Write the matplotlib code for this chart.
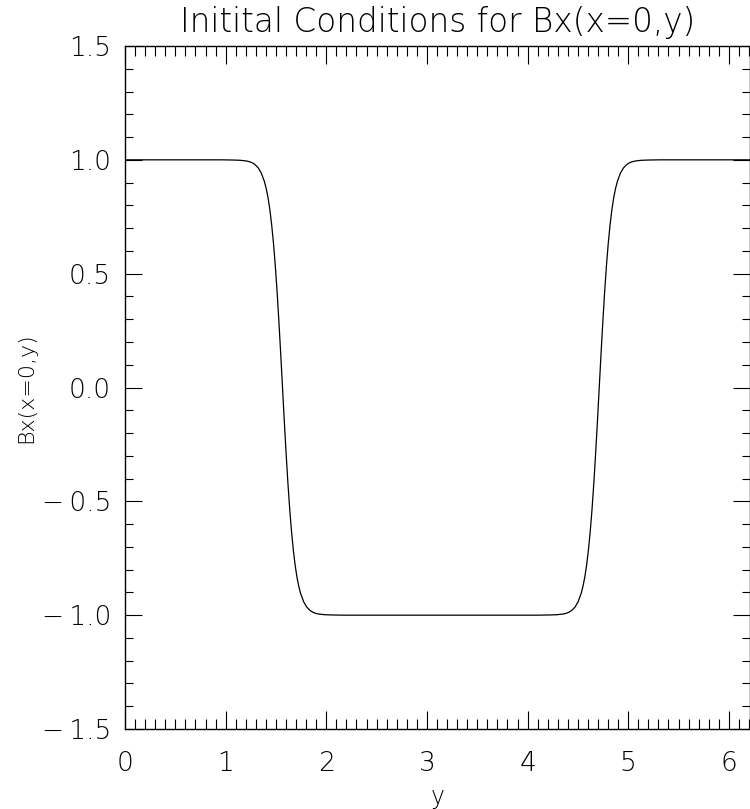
import numpy as np
import matplotlib
matplotlib.use("Agg")
import matplotlib.pyplot as plt
from matplotlib.ticker import MultipleLocator

# Bx profile along x=0, sampled by hand (denser through the two current sheets)
y_vals = [0.000, 0.500, 0.965, 1.085, 1.145, 1.205, 1.235, 1.265, 1.295, 1.325,
          1.355, 1.385, 1.403, 1.421, 1.439, 1.457, 1.475, 1.493, 1.511, 1.529,
          1.547, 1.565, 1.583, 1.601, 1.619, 1.637, 1.655, 1.673, 1.691, 1.709,
          1.727, 1.745, 1.775, 1.805, 1.835, 1.865, 1.895, 1.925, 1.985, 2.045,
          2.165, 3.140, 4.112, 4.232, 4.292, 4.352, 4.382, 4.412, 4.442, 4.472,
          4.502, 4.532, 4.550, 4.568, 4.586, 4.604, 4.622, 4.640, 4.658, 4.676,
          4.694, 4.712, 4.730, 4.748, 4.766, 4.784, 4.802, 4.820, 4.838, 4.856,
          4.874, 4.892, 4.922, 4.952, 4.982, 5.012, 5.042, 5.072, 5.132, 5.192,
          5.312, 6.283]
bx_vals = [1.000, 1.000, 1.000, 0.999, 0.998, 0.995, 0.992, 0.987, 0.978, 0.964,
           0.941, 0.905, 0.874, 0.834, 0.782, 0.716, 0.635, 0.537, 0.422, 0.291,
           0.149, 0.000, -0.149, -0.291, -0.422, -0.537, -0.635, -0.716, -0.782, -0.834,
           -0.874, -0.905, -0.941, -0.964, -0.978, -0.987, -0.992, -0.995, -0.998, -0.999,
           -1.000, -1.000, -1.000, -0.999, -0.998, -0.995, -0.992, -0.987, -0.978, -0.964,
           -0.941, -0.905, -0.874, -0.834, -0.782, -0.716, -0.635, -0.537, -0.422, -0.291,
           -0.149, 0.000, 0.149, 0.291, 0.422, 0.537, 0.635, 0.716, 0.782, 0.834,
           0.874, 0.905, 0.941, 0.964, 0.978, 0.987, 0.992, 0.995, 0.998, 0.999,
           1.000, 1.000]

x_ticks = [0, 1, 2, 3, 4, 5, 6]
y_ticks = [-1.5, -1.0, -0.5, 0.0, 0.5, 1.0, 1.5]

font = dict(family=["DejaVu Sans"], weight="light")

fig = plt.figure(figsize=(7.5, 8.09), dpi=100)
ax = fig.add_axes([125 / 750, 80 / 809, 625 / 750, 683 / 809])

ax.plot(y_vals, bx_vals, color="black", lw=0.9, solid_joinstyle="round")

ax.set_xlim(0, 6.21)
ax.set_ylim(-1.5, 1.5)
ax.set_xticks(x_ticks)
ax.set_yticks(y_ticks)
ax.set_xticklabels([str(t) for t in x_ticks], fontdict=dict(size=19, **font))
ax.set_yticklabels([f"{t:.1f}".replace("-", "\u2212\u2009") for t in y_ticks],
                   fontdict=dict(size=19, **font))
ax.xaxis.set_minor_locator(MultipleLocator(0.1))
ax.yaxis.set_minor_locator(MultipleLocator(0.1))
ax.tick_params(which="both", direction="in", top=True, right=True, width=0.8)
ax.tick_params(axis="x", which="major", length=13, pad=16)
ax.tick_params(axis="x", which="minor", length=7)
ax.tick_params(axis="y", which="major", length=12, pad=10)
ax.tick_params(axis="y", which="minor", length=6)
for s in ax.spines.values():
    s.set_linewidth(1.0)

ax.set_title("Initital Conditions for Bx(x=0,y)", size=23.5, pad=10, **font)
ax.set_xlabel("y", size=17, labelpad=6, **font)
ax.set_ylabel("Bx(x=0,y)", size=16, labelpad=4, **font)

fig.savefig("out.png", dpi=100)
